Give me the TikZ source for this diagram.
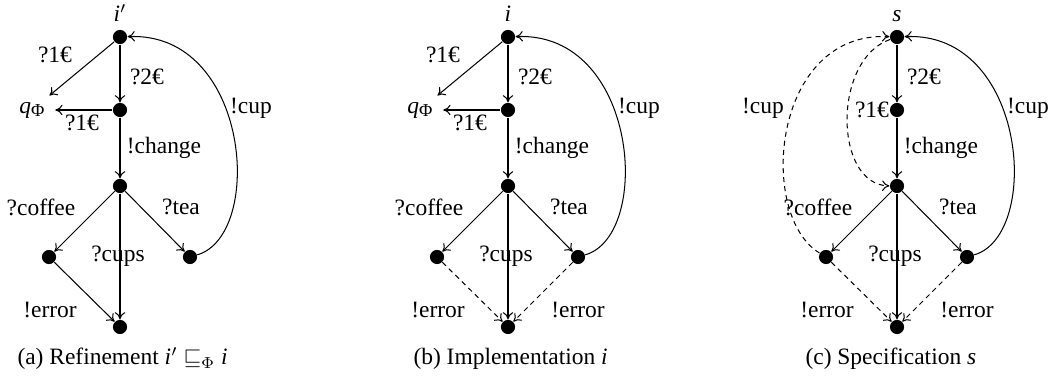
\documentclass[tikz,border=0pt]{standalone}
\usepackage{fontspec}
\setmainfont{Liberation Serif}
\usetikzlibrary{arrows.meta}
\begin{document}
\begin{tikzpicture}[x=0.439pt,y=-0.439pt,line width=0.45pt,
  >={To[length=3.2pt,width=4.6pt]},
  st/.style={circle,fill,inner sep=0pt,minimum size=6.2pt},
  lb/.style={inner sep=0pt,font=\fontsize{10.3}{12}\selectfont},
  qn/.style={inner sep=0pt,minimum width=20pt,minimum height=12.3pt,font=\fontsize{10.3}{12}\selectfont},
  top/.style={anchor=south,inner sep=3.2pt,font=\fontsize{10.3}{12}\selectfont},
  tr/.style={->},
  dtr/.style={->,dash pattern=on 2.2pt off 1.8pt}]
\useasboundingbox (0,0) rectangle (1055,377);

% ---------------- (a) ----------------
\begin{scope}
\node[st] (a1) at (120,37) {};
\node[st] (a2) at (120,110) {};
\node[st] (a3) at (120,186) {};
\node[st] (a4) at (49,257) {};
\node[st] (a5) at (190,257) {};
\node[st] (a6) at (120,327) {};
\node[qn] (aq) at (32,110) {\textit{q}\raisebox{-0.35ex}{\fontsize{8}{9}\selectfont Φ}};
\node[top] (at) at (a1.north) {\textit{i}$'$};
\node[lb] (al1) at (55,55) {?1€};
\node[lb] (al2) at (147,77) {?2€};
\node[lb] (al3) at (82,123) {?1€};
\node[lb] (al4) at (164,148) {!change};
\node[lb] (al5) at (41,207) {?coffee};
\node[lb] (al6) at (181,207) {?tea};
\node[lb] (al7) at (118,256) {?cups};
\node[lb] (al8) at (50,310) {!error};
\node[lb] (al9) at (251,108) {!cup};
\draw[tr] (a1) -- (aq);
\draw[tr] (a2) -- (aq);
\draw[tr] (a1) -- (a2);
\draw[tr] (a2) -- (a3);
\draw[tr] (a3) -- (a4);
\draw[tr] (a3) -- (a5);
\draw[tr] (a3) -- (a6);
\draw[tr] (a4) -- (a6);
\draw[tr] (a5) .. controls (265,235) and (250,31) .. (a1);
\end{scope}

% ---------------- (b) ----------------
\begin{scope}[shift={(388,0)}]
\node[st] (b1) at (120,37) {};
\node[st] (b2) at (120,110) {};
\node[st] (b3) at (120,186) {};
\node[st] (b4) at (49,257) {};
\node[st] (b5) at (190,257) {};
\node[st] (b6) at (120,327) {};
\node[qn] (bq) at (32,110) {\textit{q}\raisebox{-0.35ex}{\fontsize{8}{9}\selectfont Φ}};
\node[top] (bt) at (b1.north) {\textit{i}};
\node[lb] (bl1) at (55,55) {?1€};
\node[lb] (bl2) at (147,77) {?2€};
\node[lb] (bl3) at (82,123) {?1€};
\node[lb] (bl4) at (164,148) {!change};
\node[lb] (bl5) at (41,207) {?coffee};
\node[lb] (bl6) at (181,207) {?tea};
\node[lb] (bl7) at (118,256) {?cups};
\node[lb] (bl8) at (50,310) {!error};
\node[lb] (bl10) at (190,310) {!error};
\node[lb] (bl9) at (251,108) {!cup};
\draw[tr] (b1) -- (bq);
\draw[tr] (b2) -- (bq);
\draw[tr] (b1) -- (b2);
\draw[tr] (b2) -- (b3);
\draw[tr] (b3) -- (b4);
\draw[tr] (b3) -- (b5);
\draw[tr] (b3) -- (b6);
\draw[dtr] (b4) -- (b6);
\draw[dtr] (b5) -- (b6);
\draw[tr] (b5) .. controls (265,235) and (250,31) .. (b1);
\end{scope}

% ---------------- (c) ----------------
\begin{scope}[shift={(777,0)}]
\node[st] (c1) at (120,37) {};
\node[st] (c2) at (120,110) {};
\node[st] (c3) at (120,186) {};
\node[st] (c4) at (49,257) {};
\node[st] (c5) at (190,257) {};
\node[st] (c6) at (120,327) {};
\node[top] (ct) at (c1.north) {\textit{s}};
\node[lb] (cl2) at (147,77) {?2€};
\node[lb] (cl3) at (95,110) {?1€};
\node[lb] (cl4) at (164,148) {!change};
\node[lb] (cl5) at (41,207) {?coffee};
\node[lb] (cl6) at (181,207) {?tea};
\node[lb] (cl7) at (118,256) {?cups};
\node[lb] (cl8) at (50,310) {!error};
\node[lb] (cl10) at (190,310) {!error};
\node[lb] (cl9) at (251,108) {!cup};
\node[lb] (cl11) at (-14,108) {!cup};
\draw[tr] (c1) -- (c2);
\draw[tr] (c2) -- (c3);
\draw[tr] (c3) -- (c4);
\draw[tr] (c3) -- (c5);
\draw[tr] (c3) -- (c6);
\draw[dtr] (c4) -- (c6);
\draw[dtr] (c5) -- (c6);
\draw[tr] (c5) .. controls (265,235) and (250,31) .. (c1);
\draw[dtr] (c4) .. controls (-20,215) and (-5,31) .. (c1);
\draw[dtr] (c1) .. controls (55,60) and (57,185) .. (c3);
\end{scope}

% ---------------- captions ----------------
\node[lb,anchor=base west] (capa) at (17,365) {(a) Refinement \textit{i}$'$ $\sqsubseteq_\Phi$ \textit{i}};
\node[lb,anchor=base west] (capb) at (413,365) {(b) Implementation \textit{i}};
\node[lb,anchor=base west] (capc) at (805,365) {(c) Specification \textit{s}};
\end{tikzpicture}
\end{document}
